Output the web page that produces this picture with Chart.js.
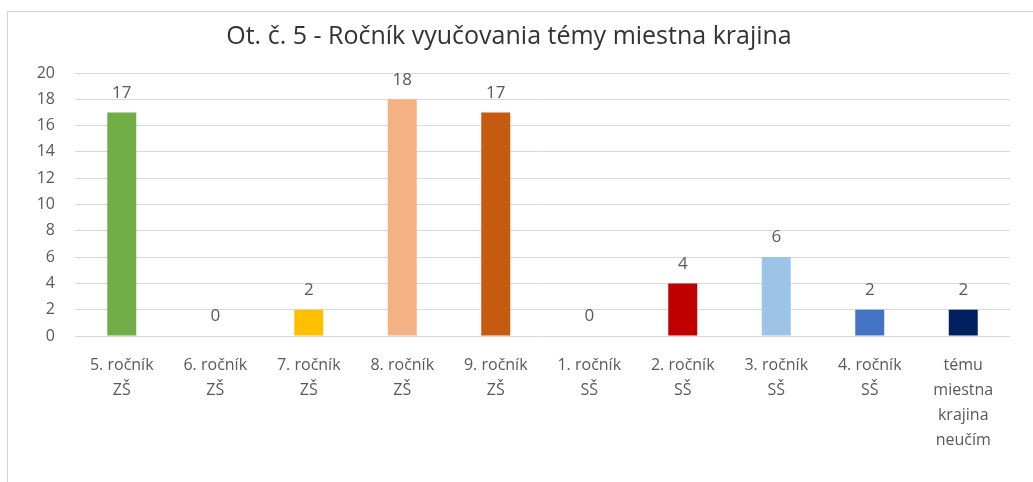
<!DOCTYPE html>
<html>
<head>
<meta charset="utf-8">
<script src="https://cdn.jsdelivr.net/npm/chart.js@4"></script>
<style>
    body { margin: 0; background: #fff; overflow: hidden; }
    #frame {
        position: absolute; left: 7px; top: 11px;
        width: 1040px; height: 480px;
        border: 1px solid #d4d4d4;
    }
    #chart { position: absolute; left: 0; top: 0; }
</style>
</head>
<body>
<div id="frame">
    <canvas id="chart" width="1026" height="471"></canvas>
</div>
<script>
// categories (multi-line labels as in the original)
var labels = [
    ["5. ročník", "ZŠ"],
    ["6. ročník", "ZŠ"],
    ["7. ročník", "ZŠ"],
    ["8. ročník", "ZŠ"],
    ["9. ročník", "ZŠ"],
    ["1. ročník", "SŠ"],
    ["2. ročník", "SŠ"],
    ["3. ročník", "SŠ"],
    ["4. ročník", "SŠ"],
    ["tému", "miestna", "krajina", "neučím"]
];
var counts = [17, 0, 2, 18, 17, 0, 4, 6, 2, 2];
var barColors = ["#70AD47", "#A5A5A5", "#FFC000", "#F4B183", "#C55A11",
                 "#5B9BD5", "#C00000", "#9DC3E6", "#4472C4", "#002060"];
var titleText = "Ot. č. 5 - Ročník vyučovania témy miestna krajina";

var fontFamily = "'Open Sans', 'Noto Sans', sans-serif";

// value labels above bars
var valueLabels = {
    id: "valueLabels",
    afterDatasetsDraw: function(chart) {
        let ctx = chart.ctx;
        let meta = chart.getDatasetMeta(0);
        ctx.save();
        ctx.font = "17px " + fontFamily;
        ctx.fillStyle = "#595959";
        ctx.textAlign = "center";
        ctx.textBaseline = "bottom";
        meta.data.forEach(function(bar, i) {
            ctx.fillText(String(counts[i]), bar.x, bar.y - 11);
        });
        ctx.restore();
    }
};

new Chart(document.getElementById("chart"), {
    type: "bar",
    data: {
        labels: labels,
        datasets: [{
            data: counts,
            backgroundColor: barColors,
            borderWidth: 0,
            categoryPercentage: 1,
            barPercentage: 0.31
        }]
    },
    options: {
        responsive: false,
        animation: false,
        layout: { padding: { left: 0, right: 24, top: 0, bottom: 0 } },
        plugins: {
            legend: { display: false },
            tooltip: { enabled: false },
            title: {
                display: true,
                text: titleText,
                color: "#333333",
                font: { family: fontFamily, size: 25, weight: "normal", lineHeight: 1.2 },
                padding: { top: 10, bottom: 21 }
            }
        },
        scales: {
            x: {
                grid: { display: false },
                border: { display: false },
                ticks: {
                    color: "#595959",
                    font: { family: fontFamily, size: 16, lineHeight: 1.56 },
                    padding: 9,
                    maxRotation: 0,
                    autoSkip: false
                },
                afterFit: function(scale) { scale.height = 147; }
            },
            y: {
                min: 0,
                max: 20,
                grid: { color: "#d9d9d9", drawTicks: false },
                border: { display: false },
                ticks: {
                    stepSize: 2,
                    color: "#595959",
                    font: { family: fontFamily, size: 16 },
                    padding: 20
                },
                afterFit: function(scale) { scale.width = 67; }
            }
        }
    },
    plugins: [valueLabels]
});
</script>
</body>
</html>
